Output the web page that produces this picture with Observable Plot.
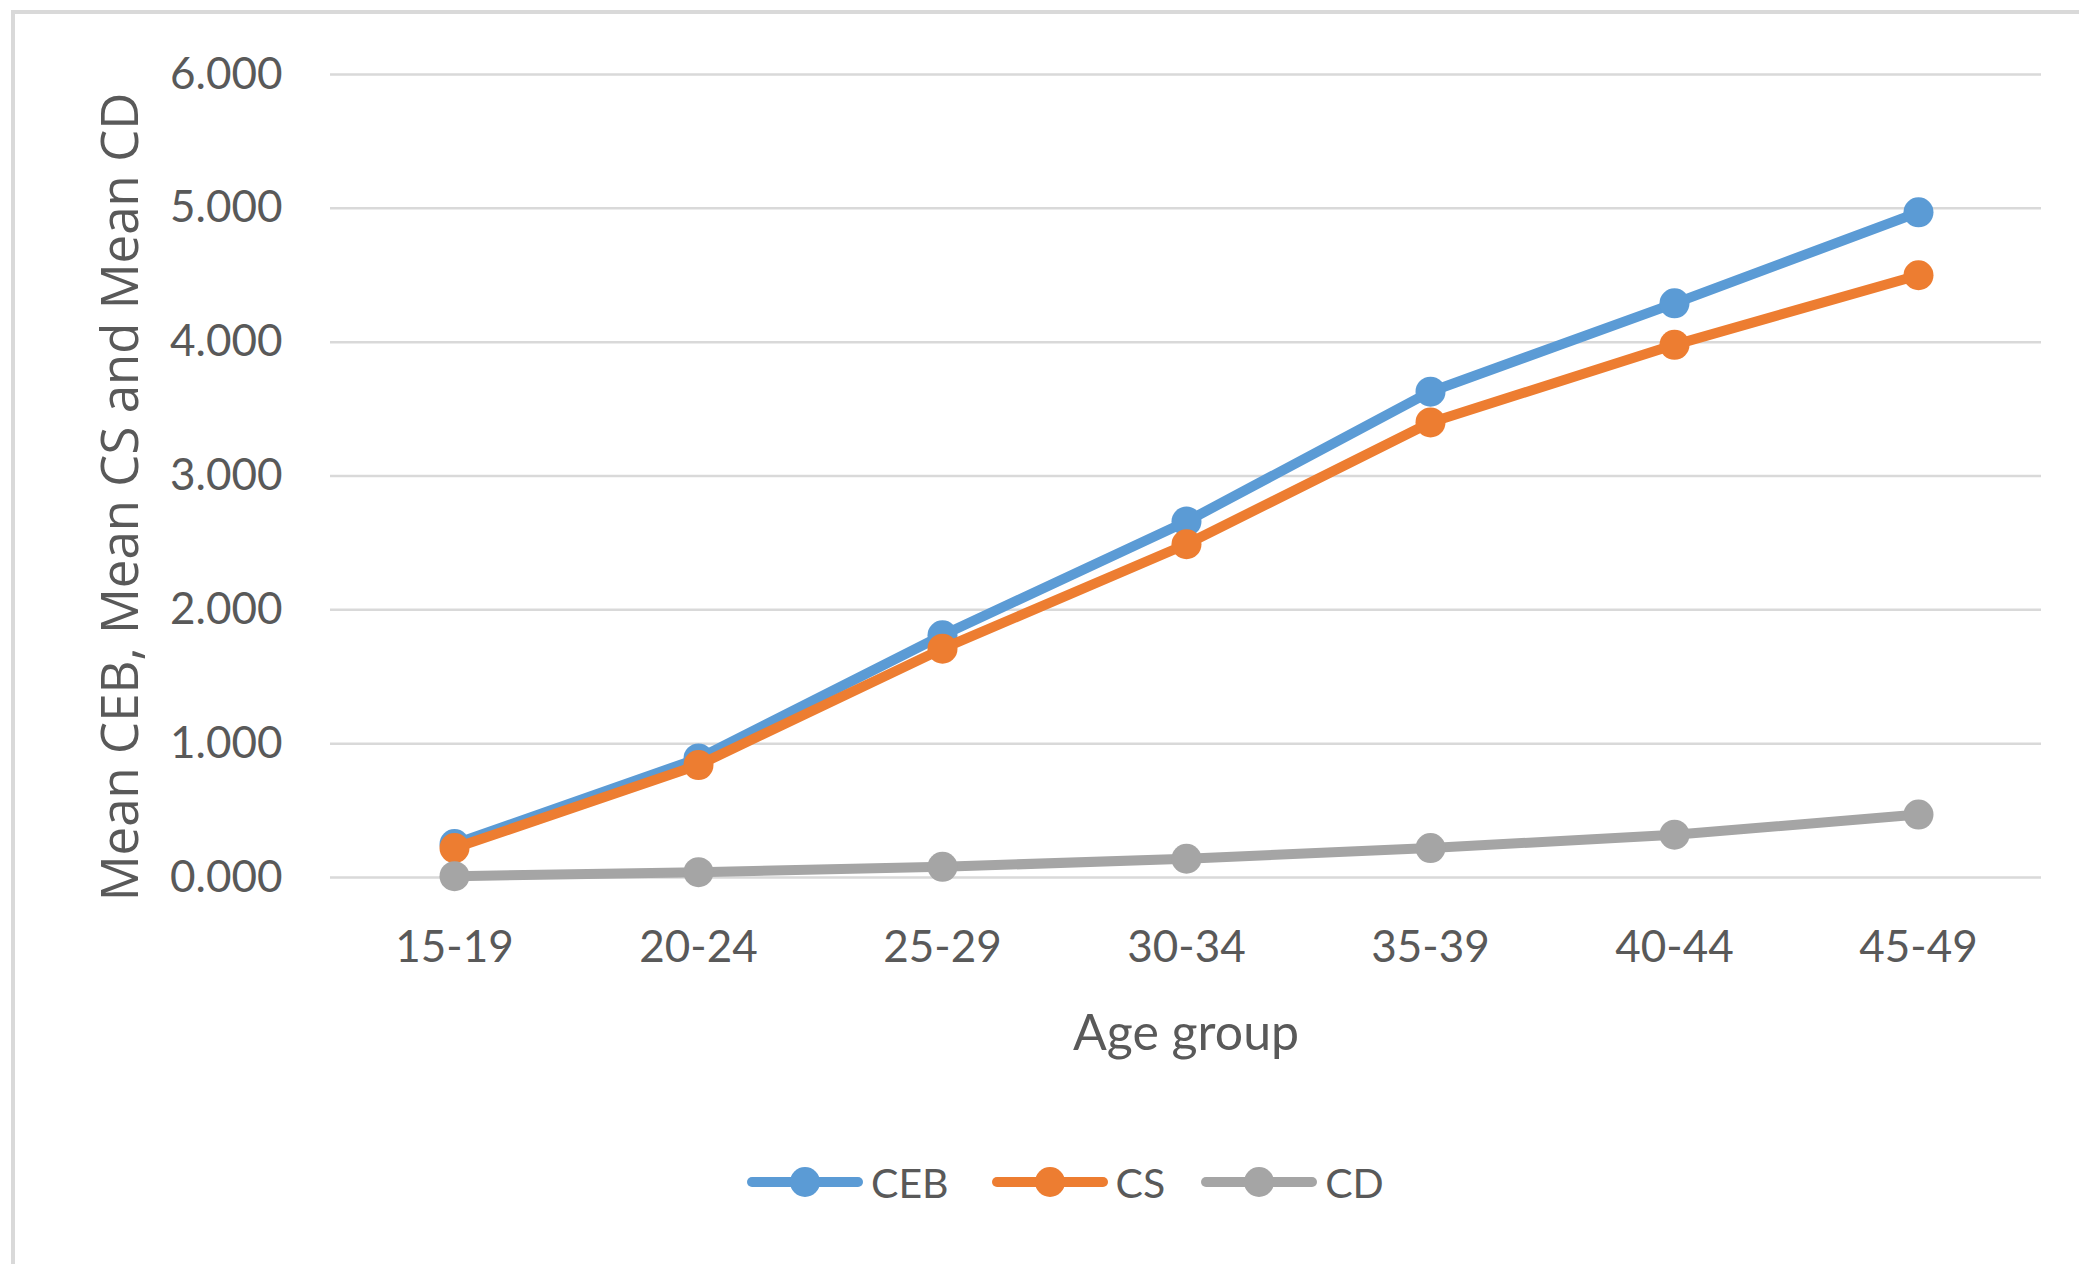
<!DOCTYPE html>
<html>
<head>
<meta charset="utf-8">
<script src="https://cdn.jsdelivr.net/npm/d3@7"></script>
<script src="https://cdn.jsdelivr.net/npm/@observablehq/plot@0.6"></script>
<style>
  html, body { margin: 0; padding: 0; background: #fff; overflow: hidden; width: 2079px; height: 1264px; }
  #frame { position: absolute; left: 11px; top: 10px; width: 3000px; height: 3000px;
           border-left: 4px solid #d9d9d9; border-top: 4px solid #d9d9d9; z-index: 5; pointer-events: none; }
  #chart { position: absolute; left: 0; top: 0; }
  #legend { position: absolute; left: 747px; top: 1162px; height: 40px; display: flex; align-items: center;
            font-family: Lato, sans-serif; font-size: 41px; color: #595959; }
  .item { display: flex; align-items: center; }
  .item span { margin-left: 8px; line-height: 1; }
</style>
</head>
<body>
<div id="frame"></div>
<div id="chart"></div>
<div id="legend"></div>
<script>
const ageGroups = ["15-19", "20-24", "25-29", "30-34", "35-39", "40-44", "45-49"];
const seriesNames = ["CEB", "CS", "CD"];
const ceb = [0.25, 0.89, 1.81, 2.66, 3.63, 4.29, 4.97];
const cs  = [0.22, 0.84, 1.71, 2.49, 3.40, 3.98, 4.50];
const cd  = [0.01, 0.04, 0.08, 0.14, 0.22, 0.32, 0.47];
const colors = ["#5B9BD5", "#ED7D31", "#A5A5A5"];
const yTicks = [0, 1, 2, 3, 4, 5, 6];

const seriesValues = [ceb, cs, cd];
const rows = seriesNames.map((s, si) => ageGroups.map((a, i) => ({series: s, age: a, value: seriesValues[si][i]})));

const marks = [
  Plot.gridY(yTicks, {stroke: "#d9d9d9", strokeOpacity: 1, strokeWidth: 2.5}),
  Plot.axisY(yTicks, {tickFormat: d3.format(".3f"), tickSize: 0, tickPadding: 48, label: null, fontSize: 44, fill: "#595959"}),
  Plot.axisX({tickSize: 0, tickPadding: 53, label: null, fontSize: 44, fill: "#595959"}),
];
rows.forEach((data, si) => {
  marks.push(Plot.line(data, {x: "age", y: "value", stroke: colors[si], strokeWidth: 10, strokeLinejoin: "round", strokeLinecap: "round"}));
  marks.push(Plot.dot(data, {x: "age", y: "value", r: 15, fill: colors[si], stroke: "none"}));
});
marks.push(Plot.text(["Age group"], {text: d => d, frameAnchor: "bottom", dy: 172, lineAnchor: "bottom", fontSize: 50, fill: "#595959"}));
marks.push(Plot.text(["Mean CEB, Mean CS and Mean CD"], {text: d => d, frameAnchor: "left", rotate: -90, dx: -193, dy: 21, lineAnchor: "bottom", textAnchor: "middle", fontSize: 51, fontFamily: "Open Sans", fill: "#595959"}));

const chart = Plot.plot({
  width: 2079,
  height: 1100,
  marginLeft: 330,
  marginRight: 38,
  marginTop: 74,
  marginBottom: 223,
  style: {fontFamily: "Lato, sans-serif", fontSize: "44px", color: "#595959", background: "transparent", overflow: "visible"},
  x: {type: "point", domain: ageGroups, padding: 0.5},
  y: {domain: [0, 6]},
  marks
});
document.getElementById("chart").appendChild(chart);

const legend = document.getElementById("legend");
seriesNames.forEach((s, i) => {
  const item = document.createElement("div");
  item.className = "item";
  if (i > 0) item.style.marginLeft = (i === 1 ? 43 : 36) + "px";
  item.innerHTML = `<svg width="116" height="34" viewBox="0 0 116 34"><line x1="5" y1="17" x2="111" y2="17" stroke="${colors[i]}" stroke-width="10" stroke-linecap="round"/><circle cx="58" cy="17" r="15" fill="${colors[i]}"/></svg><span>${s}</span>`;
  legend.appendChild(item);
});
</script>
</body>
</html>
